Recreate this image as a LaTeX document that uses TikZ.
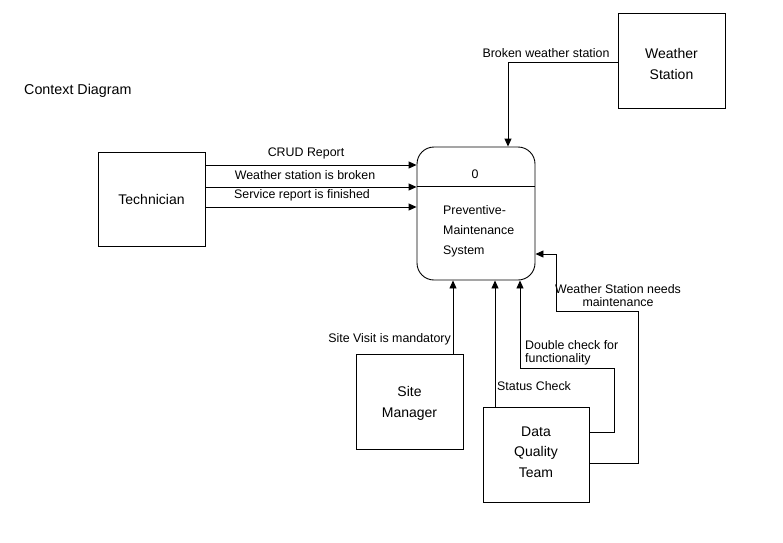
\documentclass[tikz,border=0pt]{standalone}
\usepackage{fontspec}
\setmainfont{Liberation Sans}
\usetikzlibrary{arrows.meta}
\begin{document}
\begin{tikzpicture}[x=1pt,y=-1pt,
  ent/.style={draw,line width=0.9pt,inner sep=0pt,align=center,font=\fontsize{14}{17}\selectfont},
  conn/.style={line width=0.9pt},
  arr/.style={conn,-{Triangle[length=8pt,width=7pt]}},
  lbl/.style={inner sep=0pt,font=\fontsize{12.4}{13.5}\selectfont}]
\useasboundingbox[fill=white] (0,0) rectangle (783,542);
% entities
\node[ent,minimum width=107pt,minimum height=94pt] (tech) at (151.5,199) {Technician};
\node[ent,minimum width=107pt,minimum height=95pt] (ws) at (671.5,60.5) {};
\node[inner sep=0pt,align=center,font=\fontsize{14}{21}\selectfont] (wst) at (671.5,63.5) {Weather\\Station};
\node[ent,minimum width=107pt,minimum height=95pt] (sm) at (409.5,401.5) {};
\node[inner sep=0pt,align=center,font=\fontsize{14}{21}\selectfont] (smt) at (409.5,403) {Site\\Manager};
\node[ent,minimum width=106pt,minimum height=95pt] (dq) at (536,454.5) {};
\node[inner sep=0pt,align=center,font=\fontsize{14}{20.5}\selectfont] (dqt) at (536,452) {Data\\Quality\\Team};
% process
\node[draw,line width=0.9pt,rounded corners=17pt,minimum width=118pt,minimum height=133pt,inner sep=0pt] (proc) at (476,213.5) {};
\draw[conn] (proc.west |- 0,186) -- (proc.east |- 0,186);
\node[lbl] (pnum) at (475,174) {0};
\node[lbl,anchor=west,align=left,font=\fontsize{12.4}{20}\selectfont] (pname) at (443,231) {Preventive-\\Maintenance\\System};
% title
\node[inner sep=0pt,anchor=west,font=\fontsize{14.3}{16}\selectfont] (title) at (24,91) {Context Diagram};
% technician flows
\draw[arr] (tech.east |- 0,165) -- (proc.west |- 0,165);
\draw[arr] (tech.east |- 0,187) -- (proc.west |- 0,187);
\draw[arr] (tech.east |- 0,207) -- (proc.west |- 0,207);
\node[lbl] (l1) at (306,153) {CRUD Report};
\node[lbl] (l2) at (305,175) {Weather station is broken};
\node[lbl] (l3) at (302,195) {Service report is finished};
% weather station flow
\draw[arr] (ws.west |- 0,62) -| (proc.north -| 508,0);
\node[lbl] (l4) at (546,53) {Broken weather station};
% site manager flow
\draw[arr] (sm.north -| 453,0) -- (proc.south -| 453,0);
\node[lbl,anchor=east] (l5) at (451,339) {Site Visit is mandatory};
% data quality flows
\draw[arr] (dq.north -| 495,0) -- (proc.south -| 495,0);
\node[lbl,anchor=west] (l6) at (497,386) {Status Check};
\draw[arr] (dq.east |- 0,432) -| (614,368) -| (proc.south -| 520,0);
\node[lbl,anchor=west,align=left,font=\fontsize{12.4}{13}\selectfont] (l7) at (525,352.5) {Double check for\\functionality};
\draw[arr] (dq.east |- 0,463) -| (638,311) -| (556,254) -- (proc.east |- 0,254);
\node[lbl,align=center,font=\fontsize{12.4}{13}\selectfont] (l8) at (618,295.5) {Weather Station needs\\maintenance};
\end{tikzpicture}
\end{document}
